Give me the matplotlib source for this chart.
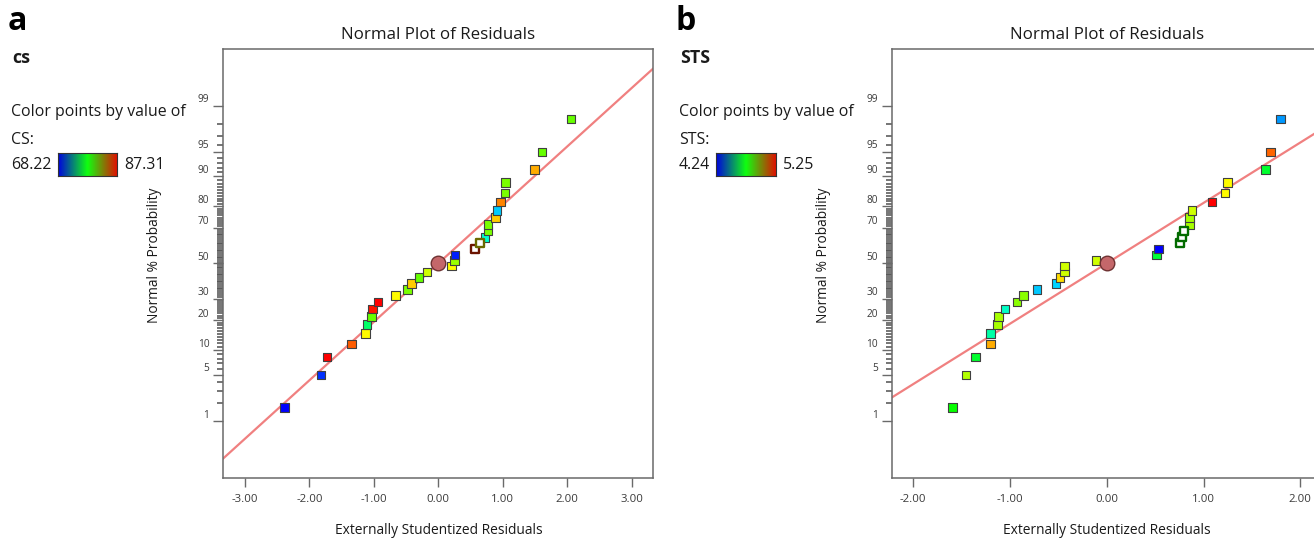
import numpy as np
import matplotlib
matplotlib.use("Agg")
import matplotlib.pyplot as plt
from matplotlib.colors import LinearSegmentedColormap, ListedColormap, hsv_to_rgb
from matplotlib.ticker import FixedLocator, NullFormatter
from matplotlib.transforms import blended_transform_factory, ScaledTranslation
from statistics import NormalDist

# ---------------- data ----------------
normal_pct = [1.67, 5.0, 8.33, 11.67, 15.0, 18.33, 21.67, 25.0, 28.33, 31.67,
              35.0, 38.33, 41.67, 45.0, 48.33, 51.67, 55.0, 58.33, 61.67, 65.0,
              68.33, 71.67, 75.0, 78.33, 81.67, 85.0, 88.33, 91.67, 95.0, 98.33]

cs_residuals = [-2.39, -1.82, -1.73, -1.345, -1.133, -1.107, -1.035, -1.02, -0.936, -0.662,
                -0.475, -0.413, -0.30, -0.175, 0.208, 0.249, 0.26, 0.57, 0.648, 0.725,
                0.767, 0.767, 0.891, 0.911, 0.968, 1.035, 1.046, 1.49, 1.605, 2.056]
cs_values = [68.22, 69.17, 87.31, 85.59, 82.54, 75.86, 79.67, 86.93, 87.31, 82.54,
             80.06, 83.49, 79.67, 81.58, 82.54, 80.63, 68.79, 86.36, 82.54, 73.95,
             80.06, 80.06, 83.49, 72.04, 84.83, 80.06, 80.06, 84.06, 79.67, 79.67]
cs_hollow = [17, 18]
cs_range = (68.22, 87.31)
cs_fit_slope = 0.862

sts_residuals = [-1.595, -1.453, -1.357, -1.202, -1.202, -1.126, -1.116, -1.05, -0.927, -0.861,
                 -0.72, -0.524, -0.482, -0.434, -0.434, -0.11, 0.517, 0.537, 0.754, 0.778,
                 0.795, 0.853, 0.853, 0.881, 1.088, 1.222, 1.246, 1.638, 1.69, 1.793]
sts_values = [4.75, 4.92, 4.70, 5.08, 4.58, 4.91, 4.91, 4.55, 4.88, 4.88,
              4.44, 4.45, 5.03, 4.95, 4.95, 4.95, 4.69, 4.24, 4.75, 4.75,
              4.75, 4.91, 4.91, 4.95, 5.25, 5.00, 5.00, 4.70, 5.15, 4.39]
sts_hollow = [18, 19, 20]
sts_range = (4.24, 5.25)
sts_fit_slope = 0.891

major_pct = [1, 5, 10, 20, 30, 50, 70, 80, 90, 95, 99]
minor_pct = [p for p in range(2, 99) if p not in major_pct]

# ---------------- setup ----------------
W, H = 1314, 541
DPI = 100
plt.rcParams['font.family'] = ['Open Sans', 'DejaVu Sans']
fig = plt.figure(figsize=(W / DPI, H / DPI), dpi=DPI)

def fx(x):
    return x / W

def fy(y):
    return 1 - y / H

nd = NormalDist()

def fwd(p):
    p = np.clip(np.asarray(p, dtype=float), 1e-7, 100 - 1e-7)
    return np.vectorize(lambda v: nd.inv_cdf(v / 100.0), otypes=[float])(p)

def inv(z):
    z = np.asarray(z, dtype=float)
    return np.vectorize(lambda v: nd.cdf(v) * 100.0, otypes=[float])(z)

hues = np.linspace(240, 0, 256) / 360.0
point_cmap = ListedColormap(hsv_to_rgb(np.stack([hues, np.ones(256), np.ones(256)], axis=1)))
bar_cmap = LinearSegmentedColormap.from_list("bgr", ["#0000e0", "#10ff10", "#e01000"])

spine_col = "#6a6a6a"
text_col = "#1a1a1a"
tick_col = "#3a3a3a"


def panel(left_px, zero_px, px_per_unit, xticks, resid, values, hollow, vrange, slope,
          letter, letter_x, resp_name, resp_title, leg_x, bar_x0, bar_x1):
    top, bottom = 49.3, 478.3
    xl = (left_px - zero_px) / px_per_unit
    xr = -xl
    right_px = zero_px + xr * px_per_unit
    ax = fig.add_axes([fx(left_px), fy(bottom), (right_px - left_px) / W, (bottom - top) / H])
    ax.set_yscale('function', functions=(fwd, inv))
    ax.set_xlim(xl, xr)
    ax.set_ylim(inv(-3.17), inv(3.157))

    # fit line
    lx = np.array([xl - 1, xr + 1])
    ax.plot(lx, inv(slope * lx), color="#f08080", lw=1.6, zorder=2)

    vals = np.asarray(values)
    norm_v = (vals - vrange[0]) / (vrange[1] - vrange[0])
    cols = point_cmap(norm_v)
    filled = [i for i in range(len(resid)) if i not in hollow]
    ax.scatter([resid[i] for i in filled], [normal_pct[i] for i in filled], s=38, marker='s',
               c=[cols[i] for i in filled], edgecolors="#404040", linewidths=0.8, zorder=3)
    for i in hollow:
        ec = np.array(cols[i][:3]) * 0.42
        ax.scatter([resid[i]], [normal_pct[i]], s=38, marker='s', facecolors='white',
                   edgecolors=[ec], linewidths=1.7, zorder=3)
    ax.scatter([0], [50], s=110, marker='o', color="#c4676a", edgecolors="#6e3232",
               linewidths=1.0, zorder=4)

    for sp in ax.spines.values():
        sp.set_color(spine_col)
        sp.set_linewidth(1.1)
    ax.xaxis.set_major_locator(FixedLocator(xticks))
    ax.set_xticklabels([f"{t:.2f}" for t in xticks], fontsize=8.2, color=tick_col)
    ax.tick_params(axis='x', direction='out', length=6.5, width=1.0, color=spine_col, pad=5.0)
    ax.yaxis.set_major_locator(FixedLocator(major_pct))
    ax.yaxis.set_major_formatter(NullFormatter())
    ax.yaxis.set_minor_locator(FixedLocator(minor_pct))
    ax.yaxis.set_minor_formatter(NullFormatter())
    ax.tick_params(axis='y', which='major', direction='out', length=7.4, width=1.0, color=spine_col)
    ax.tick_params(axis='y', which='minor', direction='out', length=4.0, width=1.1,
                   color="#505050", left=True)
    tr = blended_transform_factory(ax.transAxes, ax.transData) + \
        ScaledTranslation(-14 / DPI, 6 / DPI, fig.dpi_scale_trans)
    for p in major_pct:
        ax.text(0, p, str(p), transform=tr, ha='right', va='center', fontsize=7.3, color=tick_col)

    cx = (left_px + right_px) / 2
    fig.text(fx(cx), fy(35), "Normal Plot of Residuals", ha='center', va='center',
             fontsize=12.2, color=text_col)
    fig.text(fx(cx), fy(530), "Externally Studentized Residuals", ha='center', va='center',
             fontsize=9.9, color=text_col)
    fig.text(fx(left_px - 68.3), fy(255), "Normal % Probability", ha='center', va='center',
             rotation=90, fontsize=9.9, color=text_col)

    # panel letter and legend
    fig.text(fx(letter_x), fy(21), letter, ha='left', va='center', fontsize=23,
             fontweight='bold', color='black')
    fig.text(fx(leg_x + 1), fy(58), resp_title, ha='left', va='center', fontsize=12.8,
             fontweight='bold', color=text_col)
    fig.text(fx(leg_x), fy(112), "Color points by value of", ha='left', va='center',
             fontsize=11.4, color=text_col)
    fig.text(fx(leg_x), fy(140), resp_name + ":", ha='left', va='center',
             fontsize=11.4, color=text_col)
    fig.text(fx(leg_x), fy(165), f"{vrange[0]:.2f}", ha='left', va='center',
             fontsize=11.4, color=text_col)
    fig.text(fx(bar_x1 + 7), fy(165), f"{vrange[1]:.2f}", ha='left', va='center',
             fontsize=11.4, color=text_col)
    cax = fig.add_axes([fx(bar_x0), fy(176), (bar_x1 - bar_x0) / W, 23 / H])
    cax.imshow(np.linspace(0, 1, 256)[None, :], aspect='auto', cmap=bar_cmap)
    cax.set_xticks([])
    cax.set_yticks([])
    for sp in cax.spines.values():
        sp.set_color("#333333")
        sp.set_linewidth(0.8)
    return ax


panel(223.3, 438.35, 64.45, [-3, -2, -1, 0, 1, 2, 3], cs_residuals, cs_values, cs_hollow,
      cs_range, cs_fit_slope, "a", 8, "CS", "cs", 11, 58, 117)
panel(891.7, 1106.7, 96.8, [-2, -1, 0, 1, 2], sts_residuals, sts_values, sts_hollow,
      sts_range, sts_fit_slope, "b", 676, "STS", "STS", 679, 716, 776)

fig.savefig("out.png", dpi=DPI)
